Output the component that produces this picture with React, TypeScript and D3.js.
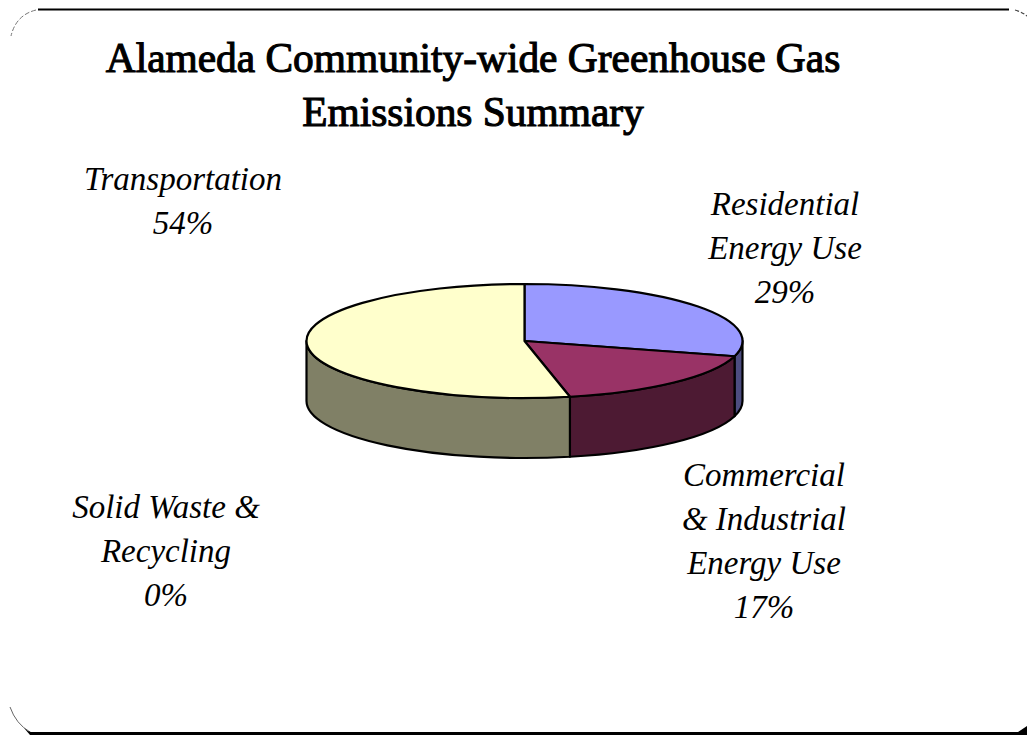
import React from "react";
import * as d3 from "d3";

const categories = ["Residential Energy Use", "Commercial & Industrial Energy Use", "Transportation", "Solid Waste & Recycling"];
const values = [29.4, 17.4, 53.5, 0];
const topColors = ["#9999ff", "#993366", "#ffffcc", "#ccffff"];
const sideColors = ["#4d4d80", "#4d1a33", "#808066", "#668080"];
const titleLines = ["Alameda Community-wide Greenhouse Gas", "Emissions Summary"];
const labelLines = [
  ["Residential", "Energy Use", "29%"],
  ["Commercial", "& Industrial", "Energy Use", "17%"],
  ["Transportation", "54%"],
  ["Solid Waste &", "Recycling", "0%"],
];
const labelPos = [
  [785, 215],
  [764, 486],
  [183, 190],
  [166, 518],
];

const W = 1027, H = 735;
const cx = 524.5, cy = 341, rx = 218, ry = 57, depth = 60;
const serif = "'Liberation Serif', serif";

const px = d3.scaleLinear().domain([-1, 1]).range([cx - rx, cx + rx]);
const py = d3.scaleLinear().domain([-1, 1]).range([cy - ry, cy + ry]);
const pt = (a: number) => [px(Math.sin(a)), py(-Math.cos(a))];

function topPath(a0: number, a1: number) {
  const [x0, y0] = pt(a0), [x1, y1] = pt(a1);
  return `M${cx},${cy}L${x0},${y0}A${rx},${ry} 0 ${a1 - a0 > Math.PI ? 1 : 0} 1 ${x1},${y1}Z`;
}
function sidePath(a0: number, a1: number) {
  const s = Math.max(a0, Math.PI / 2), e = Math.min(a1, 1.5 * Math.PI);
  if (e <= s) return null;
  const [x0, y0] = pt(s), [x1, y1] = pt(e);
  return `M${x0},${y0}A${rx},${ry} 0 0 1 ${x1},${y1}L${x1},${y1 + depth}A${rx},${ry} 0 0 0 ${x0},${y0 + depth}Z`;
}

export default function App() {
  const arcs = d3.pie<number>().sort(null)(values);
  return (
    <svg width={W} height={H} viewBox={`0 0 ${W} ${H}`} style={{ position: "absolute", left: 0, top: 0, background: "#fff" }}>
      <path d="M38,9.5H1009" fill="none" stroke="#000" strokeWidth={1.8} />
      <path d="M1015,10Q1022,12 1027,16" fill="none" stroke="#444" strokeWidth={1.2} strokeDasharray="4 2" />
      <path d="M36,10Q16,15 11,36" fill="none" stroke="#777" strokeWidth={1} strokeDasharray="5 2" />
      <path d="M10,707Q16,724 30,732" fill="none" stroke="#666" strokeWidth={1} />
      <path d="M24,728Q27,731 31,732H1018L1027,726V735H30Z" fill="#000" />
      {titleLines.map((t, i) => (
        <text key={t} x={473} y={72 + i * 54} textAnchor="middle" fontFamily={serif} fontSize={41.4} stroke="#000" strokeWidth={1.1} fill="#000">{t}</text>
      ))}
      <g stroke="#000" strokeWidth={2.2} strokeLinejoin="round">
        {arcs.map((a, i) => {
          const d = sidePath(a.startAngle, a.endAngle);
          return d ? <path key={"s" + i} d={d} fill={sideColors[i]} /> : null;
        })}
        {arcs.map((a, i) =>
          a.endAngle > a.startAngle ? <path key={"t" + i} d={topPath(a.startAngle, a.endAngle)} fill={topColors[i]} /> : null
        )}
      </g>
      {labelLines.map((lines, i) => (
        <g key={categories[i]}>
          {lines.map((l, j) => (
            <text key={j} x={labelPos[i][0]} y={labelPos[i][1] + j * 44} textAnchor="middle" fontFamily={serif} fontStyle="italic" fontSize={33} fill="#000">{l}</text>
          ))}
        </g>
      ))}
    </svg>
  );
}
